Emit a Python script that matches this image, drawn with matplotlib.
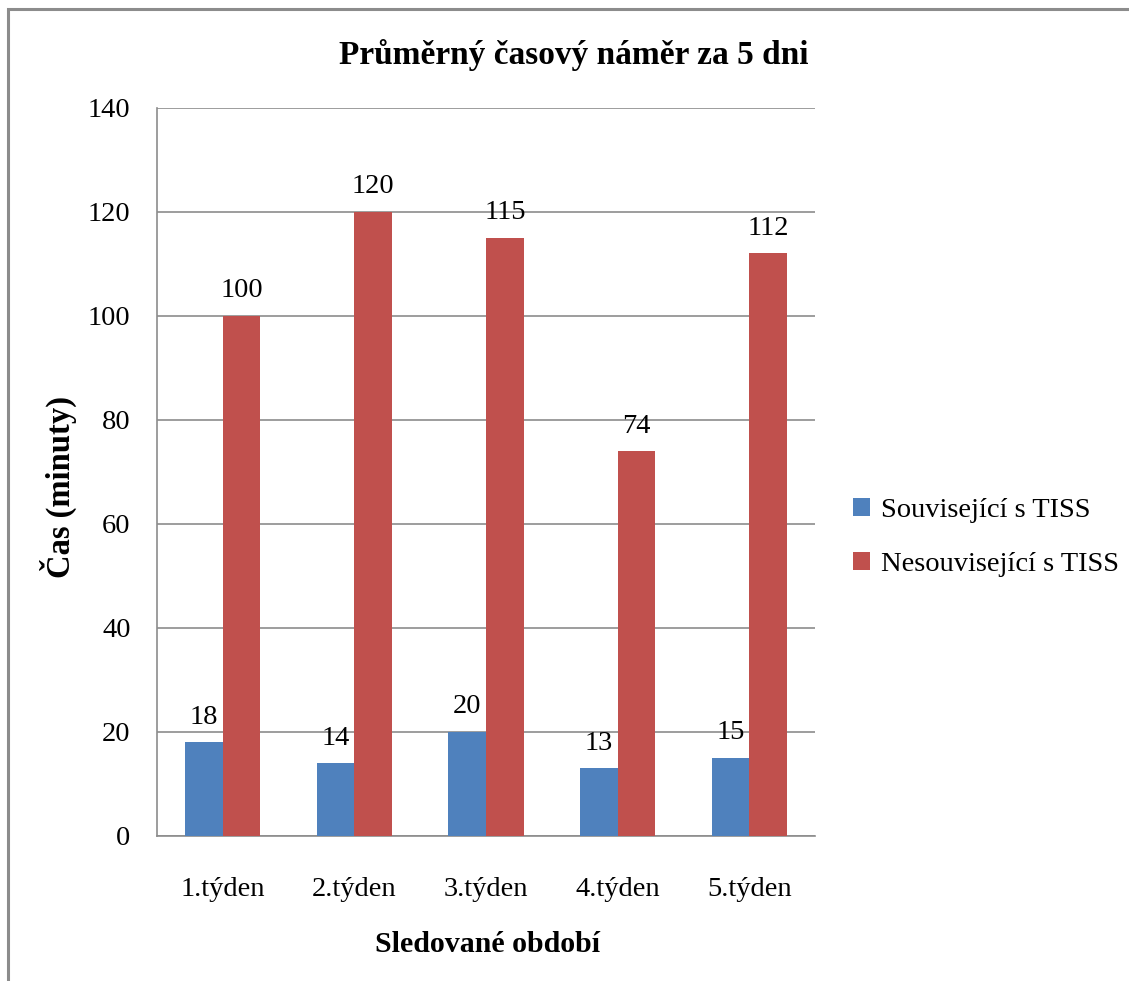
import matplotlib
matplotlib.use("Agg")
from matplotlib import pyplot as plt
from matplotlib.patches import Rectangle
import numpy as np

tydny = ['1.týden', '2.týden', '3.týden', '4.týden', '5.týden']
souvisejici = [18, 14, 20, 13, 15]
nesouvisejici = [100, 120, 115, 74, 112]
nazvy = ['Související s TISS', 'Nesouvisející s TISS']
barvy = ['#4F81BD', '#C0504D']

plt.rcParams['font.family'] = ['Liberation Serif', 'DejaVu Serif']

fig = plt.figure(figsize=(11.29, 9.81), dpi=100)
ax = fig.add_axes([0.139, 0.148, 0.583, 0.742])

# ramecek kolem grafu (vidi se jen horni a leva strana)
fig.patches.append(Rectangle((8 / 1129, -0.05), 1.2, 1 - 9 / 981 + 0.05,
                             transform=fig.transFigure, fill=False,
                             edgecolor='#8c8c8c', linewidth=2.2))

x = np.arange(len(tydny))
w = 0.286
b1 = ax.bar(x - w / 2, souvisejici, w, color=barvy[0], label=nazvy[0], zorder=3)
b2 = ax.bar(x + w / 2, nesouvisejici, w, color=barvy[1], label=nazvy[1], zorder=3)
ax.bar_label(b1, padding=9, fontsize=20.5)
ax.bar_label(b2, padding=9, fontsize=20.5)

ax.set_xlim(-0.5, len(tydny) - 0.5)
ax.set_ylim(0, 140)
ax.set_yticks(range(0, 141, 20))
ax.set_xticks(x)
ax.set_xticklabels(tydny)
ax.tick_params(axis='both', length=0, labelsize=20.5)
ax.tick_params(axis='y', pad=19)
ax.tick_params(axis='x', pad=30)
ax.grid(axis='y', color='#8c8c8c', linewidth=1.2, zorder=0)
for s in ['top', 'right']:
    ax.spines[s].set_visible(False)
for s in ['left', 'bottom']:
    ax.spines[s].set_color('#8c8c8c')
    ax.spines[s].set_linewidth(1.2)

ax.set_ylabel('Čas (minuty)', fontsize=23.5, fontweight='bold', va='center')
ax.yaxis.set_label_coords(-0.150, 0.479)
ax.set_xlabel('Sledované období', fontsize=21.5, fontweight='bold', va='center')
ax.xaxis.set_label_coords(0.502, -0.150)
fig.text(0.508, 0.944, 'Průměrný časový náměr za 5 dni', fontsize=24,
         fontweight='bold', ha='center', va='center')

ax.legend(loc='center left', bbox_to_anchor=(1.018, 0.41), frameon=False,
          fontsize=20.5, handlelength=0.6, handleheight=0.6, handletextpad=0.4,
          labelspacing=1.0)

fig.savefig('out.png', dpi=100)
